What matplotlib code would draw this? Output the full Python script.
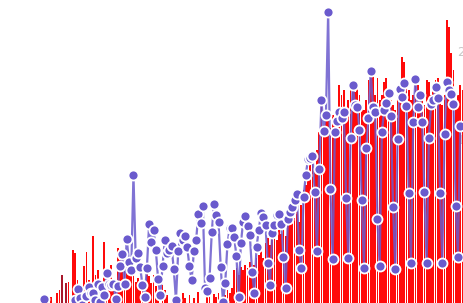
import matplotlib
matplotlib.use("Agg")
import matplotlib.pyplot as plt
import matplotlib.transforms as mtrans

# ---- data ----
# line series: day index -> value
line_days = list(range(1, 188))
line_vals_pix = [
    299, 318, 322, 325, 320, 315, 312, 318, 322, 316, 312, 310, 308, 306,   # 1-14
    300, 289, 298, 305, 310, 296, 287, 293, 293, 300, 284, 302, 287, 295,   # 15-28
    273, 284, 285, 284, 299, 286, 266, 254, 284, 239, 262, 270, 175, 258,   # 29-42
    253, 267, 285, 297, 268, 224, 242, 230, 250, 279, 295, 266, 240, 253,   # 43-56
    250, 246, 269, 300, 251, 233, 240, 236, 247, 266, 280, 251, 240, 214,   # 57-70
    223, 206, 288, 291, 278, 232, 204, 215, 222, 267, 302, 283, 244, 228,   # 71-84
    228, 237, 256, 297, 243, 222, 216, 226, 235, 272, 293, 247, 230, 213,   # 85-98
    217, 225, 263, 285, 233, 225, 215, 214, 224, 257, 288, 219, 212, 207,   # 99-112
    200, 194, 250, 268, 197, 175, 159, 158, 156, 192, 251, 169, 100, 131,   # 113-126
    115, 12, 189, 259, 132, 121, 112, 118, 112, 198, 258, 138, 85, 105,     # 127-140
    107, 130, 200, 268, 148, 118, 71, 107, 112, 219, 266, 132, 110, 103,    # 141-154
    93, 116, 207, 269, 139, 89, 97, 83, 106, 193, 263, 122, 79, 107,        # 155-168
    95, 122, 192, 263, 138, 104, 100, 87, 98, 193, 263, 134, 82, 90,        # 169-182
    94, 104, 206, 257, 126,                                                 # 183-187
]
line_values = [330 - p for p in line_vals_pix]

# bar series: day index -> value (0 = no bar)
bar_days = list(range(1, 189))
bar_top_pix = [
    None, None, None, 297, None, None, 293, 290, 275, None, 283, 282, None, 250,  # 1-14
    253, 280, None, 300, 266, 252, 280, None, 236, 275, 270, None, 290, 242,      # 15-28
    275, 285, 265, 290, 283, 248, 260, 250, 256, 265, 262, 270, 272, 282,         # 29-42
    278, 285, 290, None, 272, 276, 283, 275, 286, 293, None, 285, 290, 295,       # 43-56
    None, 300, None, None, 296, None, 293, 298, None, 295, None, 298, None, 292,  # 57-70
    None, None, None, 297, 294, None, 294, 297, 293, 298, None, 295, 290, 293,    # 71-84
    288, 270, 268, 275, 267, 270, 265, 268, 262, 272, 265, 258, 255, 250,         # 85-98
    258, 243, 238, 245, 232, 236, 240, 230, 234, 228, 236, 226, 220, 215,         # 99-112
    218, 212, 222, 205, 190, 185, 172, 165, 160, 168, 150, 132, 100, 125,         # 113-126
    118, 120, 128, 115, 120, 110, 85, 95, 90, 110, 100, 88, 85, 92,               # 127-140
    87, 95, 105, 110, 100, 80, 73, 70, 95, 78, 100, 95, 82, 78,                   # 141-154
    88, 100, 105, 110, 95, 90, 57, 62, 83, 90, 100, 95, 80, 85,                   # 155-168
    95, 100, 105, 80, 82, 95, 90, 80, 78, 100, 105, 95, 20, 27,                   # 169-182
    53, 70, 100, 95, 85, 90,                                                      # 183-188
]
bar_values = [0 if p is None else 330 - p for p in bar_top_pix]
dark_bar_days = [9, 11]

right_tick_labels = ["2", "1"]
right_tick_values = [330 - 52, 330 - 140]

# ---- drawing ----
W, H = 464, 303
fig = plt.figure(figsize=(W / 100, H / 100), dpi=100)
ax = fig.add_axes([0, -27 / H, 1, 330 / H])
ax.set_axis_off()

x0_px, px_per_day = 41.7, 2.238
ax.set_xlim(-x0_px / px_per_day, (W - x0_px) / px_per_day)
ax.set_ylim(0, 330)

bar_colors = ["#a8182c" if d in dark_bar_days else "#ff0a0a" for d in bar_days]
ax.bar(bar_days, bar_values, width=0.8, color=bar_colors, linewidth=0, zorder=1)

purple = "#6a5acd"
ax.plot(line_days, line_values, color=purple, lw=1.6, alpha=0.85, zorder=2,
        solid_joinstyle="round")
ax.plot(line_days, line_values, linestyle="none", marker="o", ms=7.2,
        mfc=purple, mec="white", mew=1.3, zorder=3)

tr = mtrans.blended_transform_factory(mtrans.IdentityTransform(), ax.transData)
for lab, v in zip(right_tick_labels, right_tick_values):
    ax.text(457, v, lab, transform=tr, color="#c8c8c8", fontsize=9,
            va="center", ha="left", zorder=0.5)

fig.savefig("out.png", dpi=100)
